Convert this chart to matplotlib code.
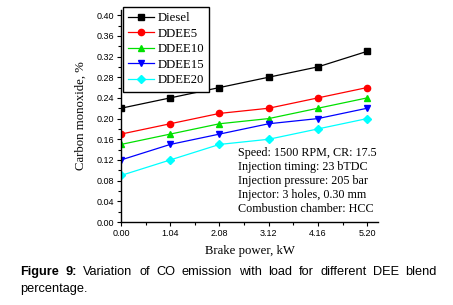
import matplotlib
matplotlib.use('Agg')
import matplotlib.pyplot as plt
from matplotlib.ticker import MultipleLocator

# load (kW) and CO emission (%)
power = [0.00, 1.04, 2.08, 3.12, 4.16, 5.20]
diesel = [0.22, 0.24, 0.26, 0.28, 0.30, 0.33]
ddee5 = [0.17, 0.19, 0.21, 0.22, 0.24, 0.26]
ddee10 = [0.15, 0.17, 0.19, 0.20, 0.22, 0.24]
ddee15 = [0.12, 0.15, 0.17, 0.19, 0.20, 0.22]
ddee20 = [0.09, 0.12, 0.15, 0.16, 0.18, 0.20]
xticks = ['0.00', '1.04', '2.08', '3.12', '4.16', '5.20']

series = [('Diesel', diesel, 'k', 's'),
          ('DDEE5', ddee5, 'r', 'o'),
          ('DDEE10', ddee10, '#00e000', '^'),
          ('DDEE15', ddee15, 'b', 'v'),
          ('DDEE20', ddee20, 'cyan', 'D')]

W, H = 453, 305
fig = plt.figure(figsize=(W/100, H/100), dpi=100)
ax = fig.add_axes([121/W, 1-222/H, (378-121)/W, (222-10)/H])

for name, y, c, m in series:
    ms = 4 if m == 'D' else 4.5
    ax.plot(power, y, color=c, marker=m, ms=ms, lw=0.9, label=name)

ax.set_xlim(0, 5.43)
ax.set_xticks(power)
ax.set_xticklabels(xticks)
ax.xaxis.set_minor_locator(MultipleLocator(0.52))
ax.yaxis.set_minor_locator(MultipleLocator(0.02))
ax.set_yticks([i*0.04 for i in range(11)])
ax.set_yticklabels(['%.2f' % (i*0.04) for i in range(11)])
ax.set_ylim(0, 0.41)
ax.spines['top'].set_visible(False)
ax.spines['right'].set_visible(False)
for s in ['left', 'bottom']:
    ax.spines[s].set_linewidth(1.0)
ax.tick_params(which='major', direction='out', length=3, width=0.8,
               labelsize=6.5, pad=2)
ax.tick_params(which='minor', direction='out', length=2, width=0.8)
for lab in ax.get_xticklabels() + ax.get_yticklabels():
    lab.set_family('Liberation Sans')

ax.set_xlabel('Brake power, kW', family='Liberation Serif', fontsize=9.2, labelpad=5)
ax.set_ylabel('Carbon monoxide, %', family='Liberation Serif', fontsize=9.2, labelpad=7)

leg = ax.legend(loc='upper left', bbox_to_anchor=(123/W, 1-7/H), bbox_transform=fig.transFigure,
                prop={'family': 'Liberation Serif', 'size': 9.2},
                fancybox=False, edgecolor='k', framealpha=1, handlelength=2.0,
                labelspacing=0.28, borderpad=0.4, handletextpad=0.3, borderaxespad=0)
leg.get_frame().set_linewidth(1.0)

ax.text(238/W, 1-147/H, 'Speed: 1500 RPM, CR: 17.5\nInjection timing: 23 bTDC\n'
        'Injection pressure: 205 bar\nInjector: 3 holes, 0.30 mm\nCombustion chamber: HCC',
        transform=fig.transFigure, family='Liberation Serif', fontsize=8.7,
        va='top', ha='left', linespacing=1.22)

# caption, first line justified between x=20 and x=437
cap_fs = 9.2
words = ['Figure', '9:', 'Variation', 'of', 'CO', 'emission', 'with', 'load',
         'for', 'different', 'DEE', 'blend']
renderer = fig.canvas.get_renderer()
objs = []
for i, w in enumerate(words):
    t = fig.text(0, 1-272/H, w, family='Liberation Sans', fontsize=cap_fs, va='center',
                 fontweight='bold' if i < 2 else 'normal')
    objs.append(t)
widths = [t.get_window_extent(renderer).width for t in objs]
x0, x1 = 20, 437
gap = (x1 - x0 - sum(widths)) / (len(words) - 1)
x = x0
for t, wd in zip(objs, widths):
    t.set_x(x/W)
    x += wd + gap
fig.text(x0/W, 1-289/H, 'percentage.', family='Liberation Sans', fontsize=cap_fs, va='center')

plt.savefig('out.png', dpi=100)
